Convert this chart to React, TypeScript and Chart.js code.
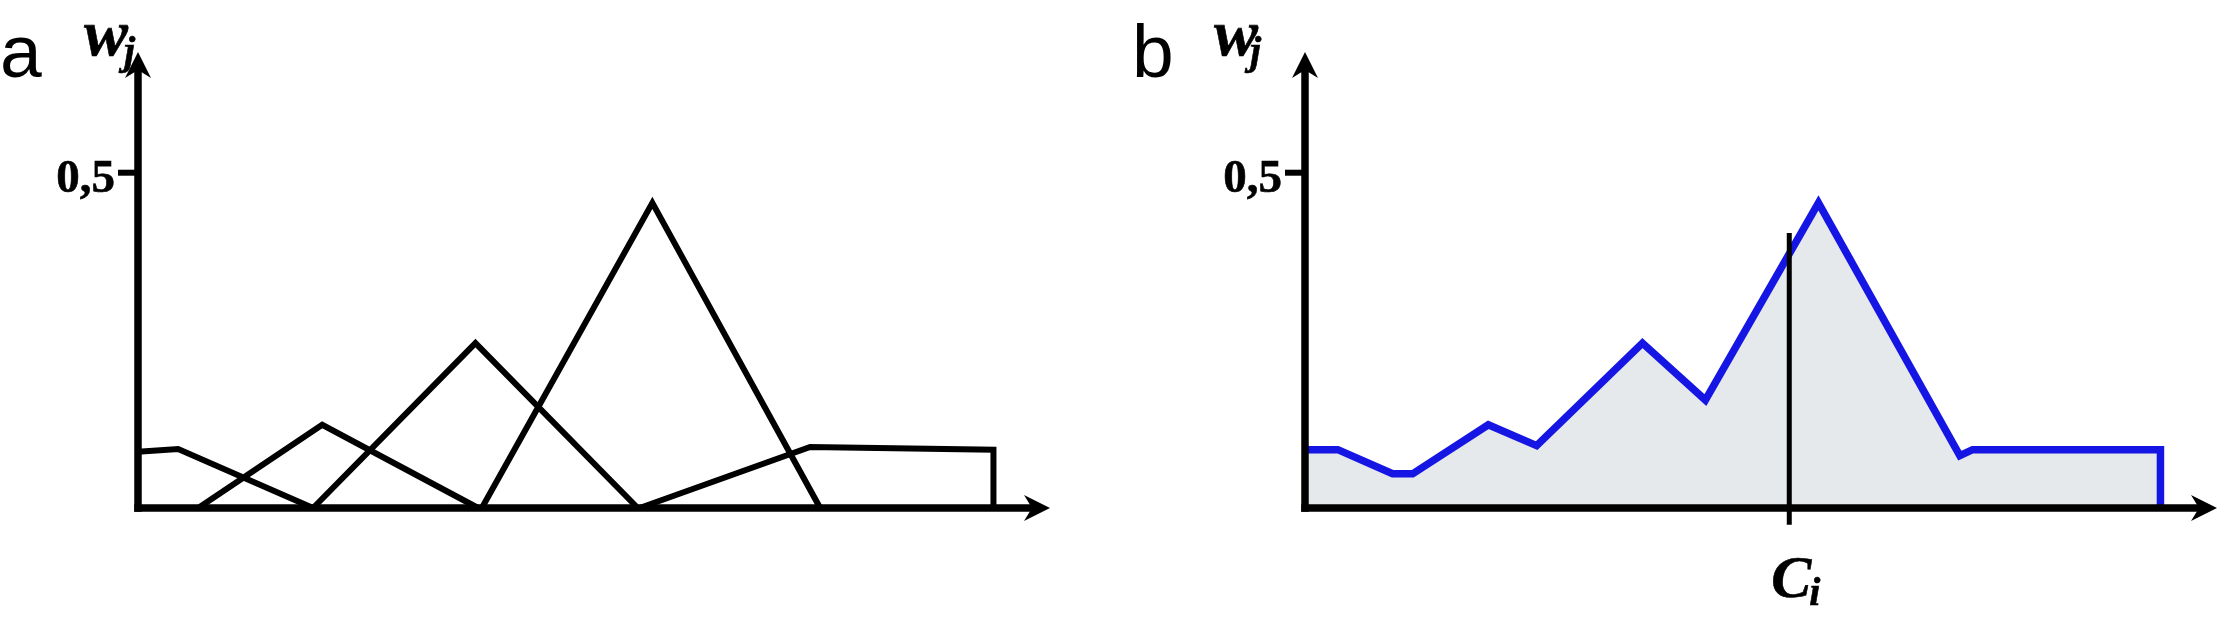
import React, { useEffect, useRef, useState } from "react";
import { Chart, registerables } from "chart.js";

Chart.register(...registerables);

// ---- Data (x in relative units 0–100 along the horizontal axis, y = w_j) ----
// Panel a: individual functions
const a1X = [0, 4.4, 19.2];
const a1Y = [0.084, 0.088, 0];
const a2X = [6.6, 20.2, 37.3];
const a2Y = [0, 0.124, 0];
const a3X = [19.2, 37.0, 54.8];
const a3Y = [0, 0.246, 0];
const a4X = [37.7, 56.4, 74.8];
const a4Y = [0, 0.455, 0];
const a5X = [55.0, 73.7, 93.8, 93.8];
const a5Y = [0, 0.091, 0.087, 0];

// Panel b: envelope
const bX = [0, 3.6, 9.6, 11.8, 20.1, 25.4, 37.0, 43.9, 56.3, 71.8, 73.2, 93.8, 93.8];
const bY = [0.087, 0.087, 0.051, 0.051, 0.124, 0.093, 0.246, 0.161, 0.455, 0.078, 0.087, 0.087, 0];

// Marker C_i
const ciX = 53.1;
const ciYs = [-0.025, 0.41];

// Axes
const yTickValues = [0.5];
const yTickLabels = ["0,5"];
const xMax = 100;
const yMax = 0.68;

const SERIF = '"Liberation Serif", "Times New Roman", serif';
const SANS = '"Liberation Sans", Arial, sans-serif';

const pts = (xs: number[], ys: number[]) => xs.map((x, i) => ({ x, y: ys[i] }));

const lineDs = (xs: number[], ys: number[], color: string, width: number, extra: any = {}) => ({
  data: pts(xs, ys),
  borderColor: color,
  borderWidth: width,
  pointRadius: 0,
  tension: 0,
  fill: false,
  clip: false,
  borderJoinStyle: "miter",
  borderCapStyle: "butt",
  ...extra,
});

const arrowAxes = {
  id: "arrowAxes",
  afterDatasetsDraw(chart: any) {
    const ctx = chart.ctx;
    const xs = chart.scales.x;
    const ys = chart.scales.y;
    const x0 = xs.getPixelForValue(0);
    const y0 = ys.getPixelForValue(0);
    const right = xs.getPixelForValue(xMax);
    const top = ys.getPixelForValue(yMax);
    ctx.save();
    ctx.strokeStyle = "#000";
    ctx.fillStyle = "#000";
    ctx.lineCap = "butt";
    ctx.lineWidth = 7.5;
    ctx.beginPath();
    ctx.moveTo(x0 - 3.75, y0);
    ctx.lineTo(right - 12, y0);
    ctx.stroke();
    ctx.beginPath();
    ctx.moveTo(x0, y0 + 3.75);
    ctx.lineTo(x0, top + 12);
    ctx.stroke();
    ctx.beginPath();
    ctx.moveTo(right, y0);
    ctx.lineTo(right - 26, y0 - 13);
    ctx.lineTo(right - 18, y0);
    ctx.lineTo(right - 26, y0 + 13);
    ctx.closePath();
    ctx.fill();
    ctx.beginPath();
    ctx.moveTo(x0, top);
    ctx.lineTo(x0 + 13, top + 26);
    ctx.lineTo(x0, top + 18);
    ctx.lineTo(x0 - 13, top + 26);
    ctx.closePath();
    ctx.fill();
    ctx.lineWidth = 6;
    yTickValues.forEach((v) => {
      const yp = ys.getPixelForValue(v);
      ctx.beginPath();
      ctx.moveTo(x0 - 20, yp);
      ctx.lineTo(x0, yp);
      ctx.stroke();
    });
    ctx.restore();
  },
};

const baseOptions = (pad: any) => ({
  responsive: false,
  animation: false,
  devicePixelRatio: 1,
  events: [],
  layout: { padding: pad },
  plugins: {
    legend: { display: false },
    tooltip: { enabled: false },
  },
  scales: {
    x: { type: "linear", min: 0, max: xMax, display: false },
    y: { type: "linear", min: 0, max: yMax, display: false },
  },
});

type Geo = { x0: number; ticks: number[]; ci?: number };

const heavy = { WebkitTextStroke: "0.6px #000" };

// place a text by its alphabetic baseline (line-height = font size)
const txt = (
  text: string,
  left: number,
  baseline: number,
  size: number,
  family: string,
  style: any = {},
  asc = 0.8375,
  key?: string
) => (
  <span
    key={key}
    style={{
      position: "absolute",
      left,
      top: baseline - asc * size,
      fontSize: size,
      lineHeight: `${size}px`,
      fontFamily: family,
      whiteSpace: "nowrap",
      color: "#000",
      ...style,
    }}
  >
    {text}
  </span>
);

export default function App() {
  const refA = useRef<HTMLCanvasElement>(null);
  const refB = useRef<HTMLCanvasElement>(null);
  const [geo, setGeo] = useState<{ a: Geo; b: Geo } | null>(null);

  useEffect(() => {
    const black = "#000000";
    const chartA = new Chart(refA.current as HTMLCanvasElement, {
      type: "line",
      data: {
        datasets: [
          lineDs(a1X, a1Y, black, 6),
          lineDs(a2X, a2Y, black, 6),
          lineDs(a3X, a3Y, black, 6),
          lineDs(a4X, a4Y, black, 6),
          lineDs(a5X, a5Y, black, 6),
        ] as any,
      },
      options: baseOptions({ left: 138, right: 61, top: 52, bottom: 110 }) as any,
      plugins: [arrowAxes],
    });
    const chartB = new Chart(refB.current as HTMLCanvasElement, {
      type: "line",
      data: {
        datasets: [
          lineDs([ciX, ciX], ciYs, black, 5),
          lineDs(bX, bY, "#1616e4", 7.5, { fill: "origin", backgroundColor: "#e5e9eb" }),
        ] as any,
      },
      options: baseOptions({ left: 194, right: 5, top: 52, bottom: 110 }) as any,
      plugins: [arrowAxes],
    });
    const g = (c: any, offset: number, withCi: boolean): Geo => ({
      x0: offset + c.scales.x.getPixelForValue(0),
      ticks: yTickValues.map((v) => c.scales.y.getPixelForValue(v)),
      ci: withCi ? offset + c.scales.x.getPixelForValue(ciX) : undefined,
    });
    setGeo({ a: g(chartA, 0, false), b: g(chartB, 1111, true) });
    return () => {
      chartA.destroy();
      chartB.destroy();
    };
  }, []);

  const labels: any[] = [];
  if (geo) {
    const panels: [Geo, string, number, number, number][] = [
      [geo.a, "a", -138, -54, -14],
      [geo.b, "b", -173, -91, -55],
    ];
    panels.forEach(([p, letter, ldx, wdx, jdx]) => {
      labels.push(txt(letter, p.x0 + ldx, 77, 75, SANS, {}, 0.8465, letter + "L"));
      labels.push(
        txt("w", p.x0 + wdx, 55, 66, SERIF, { fontWeight: "bold", fontStyle: "italic", ...heavy }, 0.8375, letter + "w")
      );
      labels.push(
        txt("j", p.x0 + jdx, 64, 40, SERIF, { fontWeight: "bold", fontStyle: "italic", ...heavy }, 0.8375, letter + "j")
      );
      p.ticks.forEach((ty, i) =>
        labels.push(
          <span
            key={letter + "t" + i}
            style={{
              position: "absolute",
              left: p.x0 - 23 - 200,
              width: 200,
              textAlign: "right",
              top: ty + 20 - 0.8375 * 47,
              fontSize: 47,
              lineHeight: "47px",
              fontFamily: SERIF,
              fontWeight: "bold",
              whiteSpace: "nowrap",
              ...heavy,
            }}
          >
            {yTickLabels[i]}
          </span>
        )
      );
      if (p.ci !== undefined) {
        labels.push(
          <span
            key="C"
            style={{
              position: "absolute",
              left: p.ci + 2 - 100,
              width: 200,
              textAlign: "center",
              top: 597 - 0.8375 * 60,
              fontSize: 60,
              lineHeight: "60px",
              fontFamily: SERIF,
              fontWeight: "bold",
              fontStyle: "italic",
              ...heavy,
            }}
          >
            C
          </span>
        );
        labels.push(
          txt("i", p.ci + 20, 605, 40, SERIF, { fontWeight: "bold", fontStyle: "italic", ...heavy }, 0.8375, "ci")
        );
      }
    });
  }

  return (
    <div style={{ position: "absolute", left: 0, top: 0, width: 2222, height: 618, background: "#ffffff", overflow: "hidden" }}>
      <canvas ref={refA} width={1111} height={618} style={{ position: "absolute", left: 0, top: 0, display: "block" }} />
      <canvas ref={refB} width={1111} height={618} style={{ position: "absolute", left: 1111, top: 0, display: "block" }} />
      {labels}
    </div>
  );
}
